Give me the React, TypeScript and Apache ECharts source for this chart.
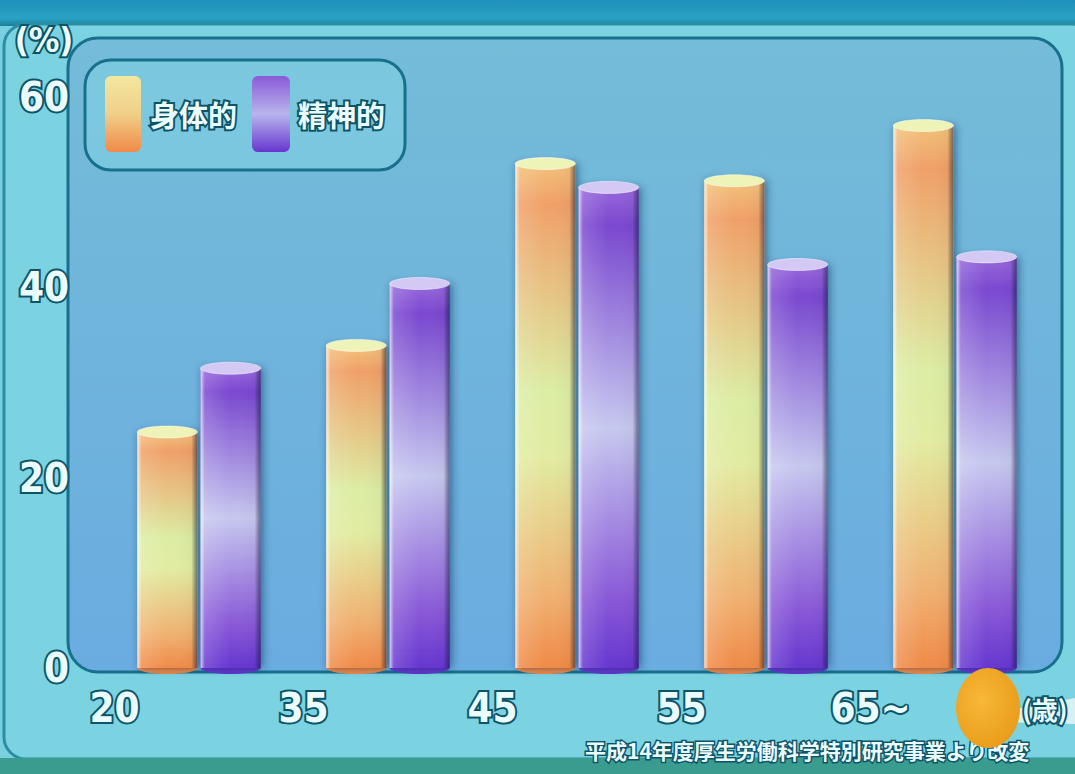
import React, { useEffect, useRef } from "react";
import * as echarts from "echarts";

const categories = ["20", "35", "45", "55", "65~"];
const physical = [24.8, 33.9, 53.0, 51.2, 57.0];
const mental = [31.5, 40.4, 50.5, 42.4, 43.2];
const yTicks = { min: 0, max: 60, interval: 20 };
const seriesNames = ["身体的", "精神的"];
const unitY = "(%)";
const unitX = "(歳)";
const sourceNote = "平成14年度厚生労働科学特別研究事業より改変";

const outline = "#0c5468";
const textFill = "#eafcff";
const numFont = "'DejaVu Sans Condensed', 'Liberation Sans Narrow', sans-serif";

const orangeStops = [
  { offset: 0, color: "#f2c27a" },
  { offset: 0.08, color: "#f0a068" },
  { offset: 0.45, color: "#dceda4" },
  { offset: 0.58, color: "#e2eca2" },
  { offset: 0.86, color: "#f0b070" },
  { offset: 1, color: "#f08a48" },
];
const purpleStops = [
  { offset: 0, color: "#9868dc" },
  { offset: 0.08, color: "#7a48d0" },
  { offset: 0.5, color: "#c6c8ef" },
  { offset: 0.85, color: "#8a5ad8" },
  { offset: 1, color: "#6636d0" },
];

function cylinder(offsetFrac: number, stops: any[], capColor: string, baseColor: string) {
  return (params: any, api: any) => {
    const cat = api.value(0);
    const val = api.value(1);
    const top = api.coord([cat, val]);
    const base = api.coord([cat, 0]);
    const band = api.size([1, 0])[0];
    const w = band * 0.318;
    const cx = top[0] + offsetFrac * band;
    const x0 = cx - w / 2;
    const h = base[1] - top[1];
    return {
      type: "group",
      children: [
        {
          type: "ellipse",
          shape: { cx, cy: base[1], rx: w / 2, ry: 6 },
          style: { fill: baseColor },
        },
        {
          type: "rect",
          shape: { x: x0, y: top[1], width: w, height: h },
          style: {
            fill: new echarts.graphic.LinearGradient(0, 0, 0, 1, stops),
            shadowBlur: 8,
            shadowColor: "rgba(0,40,80,0.55)",
            shadowOffsetX: 2,
          },
        },
        {
          type: "rect",
          shape: { x: x0, y: top[1], width: w, height: h },
          style: {
            fill: new echarts.graphic.LinearGradient(0, 0, 1, 0, [
              { offset: 0, color: "rgba(255,255,255,0.75)" },
              { offset: 0.07, color: "rgba(255,255,255,0.15)" },
              { offset: 0.5, color: "rgba(255,255,255,0)" },
              { offset: 0.9, color: "rgba(0,0,0,0.03)" },
              { offset: 1, color: "rgba(10,30,70,0.55)" },
            ]),
          },
        },
        {
          type: "ellipse",
          shape: { cx, cy: top[1], rx: w / 2, ry: 6 },
          style: { fill: capColor, stroke: "rgba(255,255,255,0.5)", lineWidth: 1 },
        },
      ],
    };
  };
}

export default function App() {
  const ref = useRef<HTMLDivElement>(null);
  useEffect(() => {
    if (!ref.current) return;
    const chart = echarts.init(ref.current, null, { renderer: "svg" });
    const labelStyle = {
      color: textFill,
      textBorderColor: outline,
      textBorderWidth: 4,
      fontFamily: numFont,
      fontWeight: "bold" as const,
      fontSize: 40,
    };
    const dataP = physical.map((v, i) => [i, v]);
    const dataM = mental.map((v, i) => [i, v]);
    chart.setOption({
      animation: false,
      backgroundColor: "#79cfe0",
      grid: { left: 105, right: 25, top: 97, bottom: 106 },
      xAxis: {
        type: "category",
        data: categories,
        axisLine: { show: false },
        axisTick: { show: false },
        axisLabel: { ...labelStyle, fontSize: 40, margin: 20, padding: [0, 170, 0, 0] },
      },
      yAxis: {
        type: "value",
        min: yTicks.min,
        max: yTicks.max,
        interval: yTicks.interval,
        splitLine: { show: false },
        axisLine: { show: false },
        axisTick: { show: false },
        axisLabel: { ...labelStyle, margin: 36 },
      },
      graphic: [
        {
          type: "rect", z: -10,
          shape: { x: 0, y: 0, width: 1075, height: 26 },
          style: {
            fill: new echarts.graphic.LinearGradient(0, 0, 0, 1, [
              { offset: 0, color: "#1f8fbc" },
              { offset: 0.7, color: "#2aa2c4" },
              { offset: 1, color: "#1a7f9a" },
            ]),
          },
        },
        {
          type: "rect", z: -9,
          shape: { x: 4, y: 24, width: 1090, height: 735, r: 22 },
          style: { fill: "#7bd2e1", stroke: "#2a8fa4", lineWidth: 3 },
        },
        {
          type: "rect", z: -8,
          shape: { x: 0, y: 758, width: 1075, height: 16 },
          style: { fill: "#3a9c8e" },
        },
        {
          type: "rect", z: -7,
          shape: { x: 68, y: 38, width: 994, height: 634, r: 30 },
          style: {
            fill: new echarts.graphic.LinearGradient(0, 0, 0, 1, [
              { offset: 0, color: "#74bcd8" },
              { offset: 1, color: "#6aace0" },
            ]),
            stroke: "#17718c",
            lineWidth: 3,
          },
        },
        {
          type: "text", z: 50,
          style: {
            text: unitY, x: 44, y: 40, textAlign: "center", textVerticalAlign: "middle",
            font: "bold 34px " + numFont,
            fill: textFill, stroke: outline, lineWidth: 4,
          },
        },
        {
          type: "rect", z: 40,
          shape: { x: 85, y: 60, width: 320, height: 110, r: 26 },
          style: { fill: "rgba(130,212,228,0.55)", stroke: "#17718c", lineWidth: 3 },
        },
        {
          type: "rect", z: 41,
          shape: { x: 105, y: 76, width: 36, height: 76, r: 6 },
          style: {
            fill: new echarts.graphic.LinearGradient(0, 0, 0, 1, [
              { offset: 0, color: "#f2e8a0" },
              { offset: 0.5, color: "#f0cf88" },
              { offset: 1, color: "#f08a48" },
            ]),
          },
        },
        {
          type: "text", z: 41,
          style: {
            text: seriesNames[0], x: 150, y: 114, textVerticalAlign: "middle",
            font: "bold 29px 'Noto Sans CJK JP', sans-serif",
            fill: textFill, stroke: outline, lineWidth: 4,
          },
        },
        {
          type: "rect", z: 41,
          shape: { x: 252, y: 76, width: 38, height: 76, r: 6 },
          style: {
            fill: new echarts.graphic.LinearGradient(0, 0, 0, 1, [
              { offset: 0, color: "#8a5ad8" },
              { offset: 0.5, color: "#b8b4ec" },
              { offset: 1, color: "#6636d0" },
            ]),
          },
        },
        {
          type: "text", z: 41,
          style: {
            text: seriesNames[1], x: 298, y: 114, textVerticalAlign: "middle",
            font: "bold 29px 'Noto Sans CJK JP', sans-serif",
            fill: textFill, stroke: outline, lineWidth: 4,
          },
        },
        {
          type: "polygon", z: 55,
          shape: { points: [[1000, 712], [1075, 698], [1075, 724], [1000, 722]] },
          style: { fill: "rgba(245,250,250,0.75)" },
        },
        {
          type: "text", z: 56,
          style: {
            text: unitX, x: 1022, y: 708, textVerticalAlign: "middle",
            font: "bold 26px 'Noto Sans CJK JP', sans-serif",
            fill: textFill, stroke: outline, lineWidth: 4,
          },
        },
        {
          type: "ellipse", z: 57,
          shape: { cx: 988, cy: 708, rx: 32, ry: 40 },
          style: {
            fill: new echarts.graphic.RadialGradient(0.4, 0.4, 0.7, [
              { offset: 0, color: "#f8b838" },
              { offset: 1, color: "#e89a18" },
            ]),
          },
        },
        {
          type: "text", z: 50,
          style: {
            text: sourceNote, x: 585, y: 750, textVerticalAlign: "middle",
            font: "bold 21px 'Noto Sans CJK JP', sans-serif",
            fill: textFill, stroke: outline, lineWidth: 3,
          },
        },
      ],
      series: [
        {
          name: seriesNames[0],
          type: "custom",
          renderItem: cylinder(-0.17, orangeStops, "#eef4b8", "#f08a48"),
          encode: { x: 0, y: 1 },
          data: dataP,
          z: 5,
        },
        {
          name: seriesNames[1],
          type: "custom",
          renderItem: cylinder(0.165, purpleStops, "#d4c8f4", "#6636d0"),
          encode: { x: 0, y: 1 },
          data: dataM,
          z: 5,
        },
      ],
    });
    return () => chart.dispose();
  }, []);
  return <div ref={ref} style={{ width: 1075, height: 774, position: "absolute", left: 0, top: 0 }} />;
}
